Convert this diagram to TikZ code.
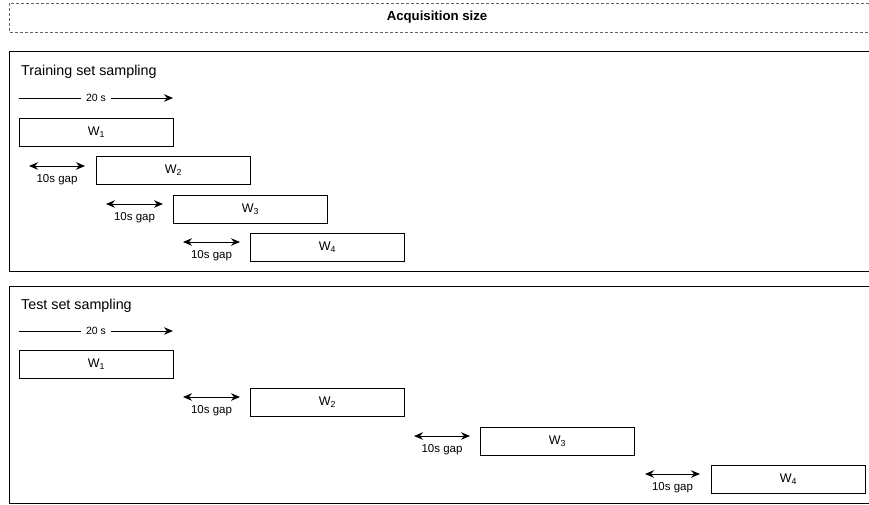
\documentclass[tikz,border=0pt]{standalone}
\usepackage{fontspec}
\setmainfont{Liberation Sans}
\usetikzlibrary{arrows.meta,positioning}

\tikzset{
  win/.style={draw, line width=0.9pt, anchor=north west, minimum width=154pt,
    minimum height=28pt, inner sep=0pt, font=\fontsize{12.5}{14}\selectfont},
  gaparrow/.style={{Stealth[length=9pt,width=7.5pt]}-{Stealth[length=9pt,width=7.5pt]}, line width=0.9pt},
  spanarrow/.style={-{Stealth[length=9pt,width=7.5pt]}, line width=0.9pt},
  gaplabel/.style={below=7.5pt, inner sep=1pt, font=\fontsize{11.5}{13}\selectfont},
  spanlabel/.style={fill=white, inner xsep=5pt, inner ysep=2pt, font=\fontsize{10.5}{12}\selectfont},
  section/.style={draw, line width=0.9pt},
  title/.style={anchor=west, inner sep=0pt, font=\fontsize{14.3}{16}\selectfont}
}

\begin{document}
\begin{tikzpicture}[x=1pt,y=-1pt]
    \clip (0,0) rectangle (869,505);
    \fill[white] (0,0) rectangle (869,505);

    % Header:
    \draw [black!60, line width=0.9pt, dash pattern=on 3pt off 2pt] (9,3) rectangle (875,32);
    \node (head) at (437,17.5) {\fontsize{13.2}{15}\selectfont\bfseries Acquisition size};

    % Training set:
    \draw [section] (9,51) rectangle (875,271);
    \node [title] (traintitle) at (21,72) {Training set sampling};

    \coordinate (trainspanA) at (19,98);
    \coordinate (trainspanB) at (173,98);
    \draw [spanarrow] (trainspanA) -- node[spanlabel] {20 s} (trainspanB);

    \node [win] (tw1) at (19,118) {W\textsubscript{1}};
    \node [win] (tw2) at (96,156) {W\textsubscript{2}};
    \node [win] (tw3) at (173,195) {W\textsubscript{3}};
    \node [win] (tw4) at (250,233) {W\textsubscript{4}};

    \coordinate (tg1a) at (29,166);
    \coordinate (tg1b) at (85,166);
    \coordinate (tg2a) at (106,204);
    \coordinate (tg2b) at (163,204);
    \coordinate (tg3a) at (183,242);
    \coordinate (tg3b) at (240,242);
    \draw [gaparrow] (tg1a) -- node[gaplabel] {10s gap} (tg1b);
    \draw [gaparrow] (tg2a) -- node[gaplabel] {10s gap} (tg2b);
    \draw [gaparrow] (tg3a) -- node[gaplabel] {10s gap} (tg3b);

    % Test set:
    \draw [section] (9,286) rectangle (875,503.5);
    \node [title] (testtitle) at (21,306) {Test set sampling};

    \coordinate (testspanA) at (19,331);
    \coordinate (testspanB) at (173,331);
    \draw [spanarrow] (testspanA) -- node[spanlabel] {20 s} (testspanB);

    \node [win] (sw1) at (19,350) {W\textsubscript{1}};
    \node [win] (sw2) at (250,388) {W\textsubscript{2}};
    \node [win] (sw3) at (480,427) {W\textsubscript{3}};
    \node [win] (sw4) at (711,465) {W\textsubscript{4}};

    \coordinate (sg1a) at (183,397);
    \coordinate (sg1b) at (240,397);
    \coordinate (sg2a) at (414,436);
    \coordinate (sg2b) at (470,436);
    \coordinate (sg3a) at (645,474);
    \coordinate (sg3b) at (700,474);
    \draw [gaparrow] (sg1a) -- node[gaplabel] {10s gap} (sg1b);
    \draw [gaparrow] (sg2a) -- node[gaplabel] {10s gap} (sg2b);
    \draw [gaparrow] (sg3a) -- node[gaplabel] {10s gap} (sg3b);
\end{tikzpicture}
\end{document}
